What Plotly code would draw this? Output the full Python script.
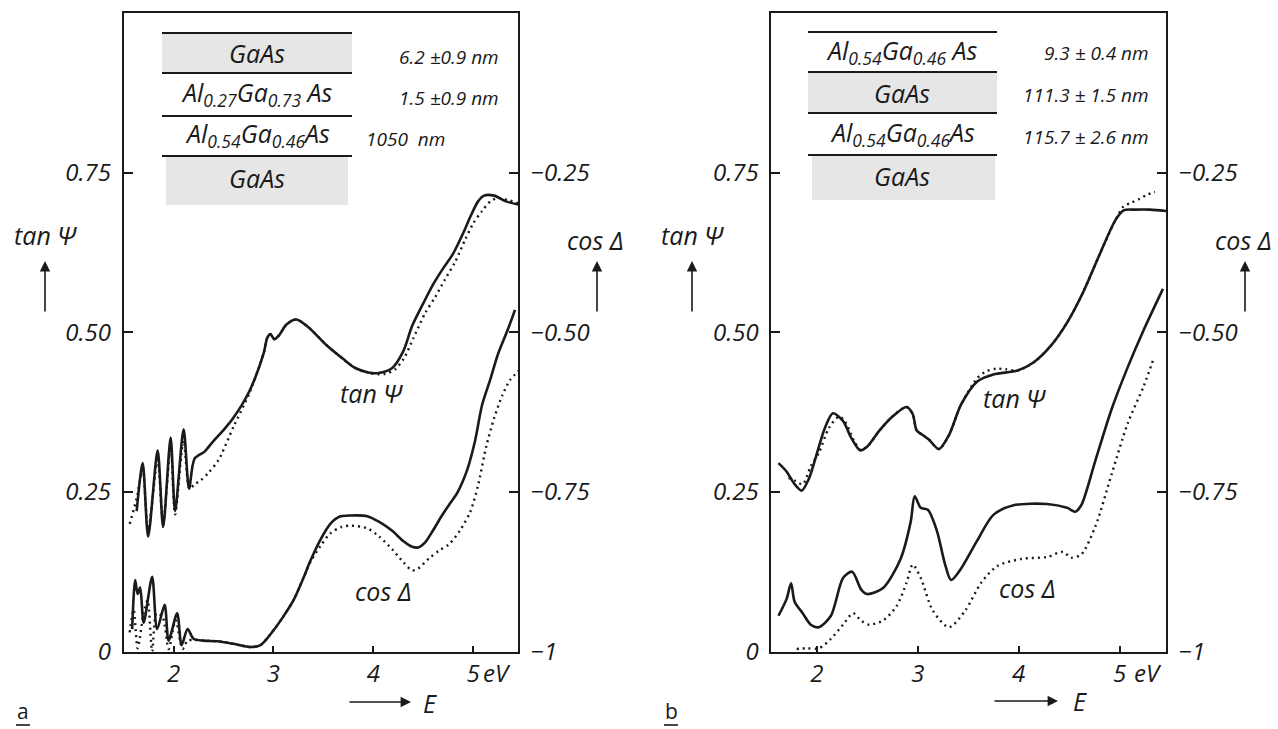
import plotly.graph_objects as go

W, H = 1278, 729
def px(x): return x / W
def py(y): return 1 - y / H

# ---------------- Panel a data ----------------
a_tan_meas_E = [1.63, 1.69, 1.745, 1.84, 1.895, 1.97, 2.015, 2.10, 2.155, 2.21, 2.31, 2.39, 2.49, 2.59,
                2.76, 2.90, 2.94, 2.97, 3.01, 3.06, 3.13, 3.23, 3.35, 3.53, 3.70, 3.82, 3.95, 4.05, 4.19,
                4.30, 4.39, 4.50, 4.60, 4.70, 4.80, 4.90, 4.97, 5.05, 5.11, 5.21, 5.33, 5.45]
a_tan_meas = [0.22, 0.295, 0.18, 0.315, 0.195, 0.335, 0.22, 0.348, 0.255, 0.302, 0.313, 0.328, 0.345, 0.364,
              0.408, 0.466, 0.492, 0.497, 0.489, 0.496, 0.512, 0.52, 0.508, 0.48, 0.458, 0.444, 0.437, 0.436, 0.444,
              0.47, 0.51, 0.545, 0.575, 0.60, 0.623, 0.655, 0.68, 0.705, 0.714, 0.714, 0.705, 0.70]

a_tan_calc_E = [1.56, 1.63, 1.69, 1.745, 1.84, 1.895, 1.97, 2.015, 2.10, 2.16, 2.21, 2.27, 2.35, 2.45, 2.60,
                2.76, 2.90, 2.94, 2.97, 3.01, 3.06, 3.13, 3.23, 3.35, 3.53, 3.70, 3.82, 3.95, 4.05, 4.12,
                4.22, 4.31, 4.40, 4.52, 4.62, 4.72, 4.82, 4.92, 5.00, 5.09, 5.18, 5.25, 5.35, 5.45]
a_tan_calc = [0.20, 0.24, 0.285, 0.19, 0.30, 0.20, 0.32, 0.215, 0.33, 0.255, 0.262, 0.268, 0.28, 0.30, 0.352,
              0.405, 0.466, 0.492, 0.497, 0.489, 0.496, 0.512, 0.52, 0.508, 0.48, 0.458, 0.444, 0.437, 0.434, 0.435,
              0.442, 0.46, 0.49, 0.53, 0.555, 0.583, 0.61, 0.645, 0.67, 0.69, 0.706, 0.71, 0.707, 0.702]

a_cos_meas_E = [1.585, 1.615, 1.64, 1.665, 1.70, 1.785, 1.835, 1.91, 1.95, 2.035, 2.08, 2.14, 2.20, 2.30,
                2.44, 2.60, 2.77, 2.87, 3.00, 3.10, 3.20, 3.30, 3.37, 3.47, 3.57, 3.66, 3.77, 3.94, 4.06,
                4.19, 4.30, 4.39, 4.45, 4.52, 4.60, 4.68, 4.76, 4.84, 4.94, 5.02, 5.09, 5.17, 5.25, 5.35, 5.42]
a_cos_meas = [-0.965, -0.888, -0.91, -0.90, -0.955, -0.883, -0.965, -0.927, -0.983, -0.94, -0.99, -0.965, -0.98, -0.983,
              -0.984, -0.988, -0.993, -0.99, -0.967, -0.945, -0.92, -0.885, -0.858, -0.825, -0.80, -0.789, -0.787, -0.788, -0.797,
              -0.811, -0.827, -0.836, -0.837, -0.829, -0.81, -0.789, -0.77, -0.752, -0.716, -0.67, -0.614, -0.575, -0.534, -0.495, -0.465]

a_cos_calc_E = [1.56, 1.60, 1.64, 1.70, 1.74, 1.785, 1.83, 1.89, 1.95, 2.02, 2.09, 2.14, 2.22, 2.30, 2.44, 2.60,
                2.77, 2.87, 3.00, 3.10, 3.20, 3.30, 3.37, 3.47, 3.57, 3.68, 3.78, 3.94, 4.06, 4.19, 4.30, 4.39,
                4.45, 4.56, 4.66, 4.76, 4.87, 4.97, 5.05, 5.13, 5.21, 5.29, 5.37, 5.46]
a_cos_calc = [-0.97, -0.935, -0.995, -0.94, -0.92, -1.0, -0.94, -0.946, -0.996, -0.951, -0.996, -0.983, -0.982, -0.983, -0.984, -0.988,
              -0.993, -0.99, -0.967, -0.945, -0.92, -0.885, -0.86, -0.835, -0.815, -0.805, -0.803, -0.807, -0.82, -0.84, -0.86, -0.873,
              -0.87, -0.854, -0.842, -0.832, -0.81, -0.782, -0.74, -0.68, -0.635, -0.60, -0.575, -0.56]

# ---------------- Panel b data ----------------
b_tan_meas_E = [1.62, 1.70, 1.78, 1.85, 1.92, 1.98, 2.08, 2.16, 2.26, 2.34, 2.43, 2.50, 2.62, 2.75, 2.89, 2.95,
                2.99, 3.05, 3.11, 3.21, 3.31, 3.43, 3.59, 3.75, 3.99, 4.15, 4.32, 4.48, 4.64, 4.80, 4.96,
                5.04, 5.15, 5.30, 5.46]
b_tan_meas = [0.295, 0.282, 0.262, 0.252, 0.27, 0.299, 0.35, 0.373, 0.361, 0.335, 0.315, 0.321, 0.346, 0.368, 0.383, 0.372,
              0.346, 0.339, 0.332, 0.317, 0.339, 0.387, 0.423, 0.434, 0.44, 0.453, 0.479, 0.515, 0.563, 0.621, 0.676,
              0.691, 0.692, 0.692, 0.69]

b_tan_calc_E = [1.72, 1.79, 1.86, 1.94, 2.02, 2.12, 2.22, 2.28, 2.36, 2.43, 2.50, 2.62, 2.75, 2.89, 2.95,
                2.99, 3.05, 3.11, 3.21, 3.31, 3.43, 3.59, 3.67, 3.78, 3.87, 3.99, 4.15, 4.32, 4.48, 4.64, 4.80,
                4.96, 5.04, 5.12, 5.20, 5.28, 5.35]
b_tan_calc = [0.272, 0.267, 0.262, 0.29, 0.311, 0.35, 0.368, 0.36, 0.333, 0.316, 0.321, 0.346, 0.368, 0.383, 0.372,
              0.346, 0.339, 0.332, 0.317, 0.339, 0.387, 0.428, 0.438, 0.443, 0.442, 0.44, 0.453, 0.479, 0.515, 0.563, 0.621,
              0.676, 0.697, 0.703, 0.709, 0.716, 0.72]

b_cos_meas_E = [1.62, 1.70, 1.745, 1.78, 1.86, 1.94, 2.02, 2.14, 2.26, 2.35, 2.44, 2.50, 2.66, 2.83, 2.93, 2.97,
                3.03, 3.10, 3.19, 3.27, 3.33, 3.43, 3.59, 3.75, 3.95, 4.28, 4.48, 4.56, 4.62, 4.76, 4.92,
                5.08, 5.24, 5.43]
b_cos_meas = [-0.944, -0.918, -0.893, -0.922, -0.94, -0.958, -0.962, -0.944, -0.885, -0.875, -0.903, -0.91, -0.90, -0.855, -0.797, -0.757,
              -0.775, -0.778, -0.811, -0.863, -0.888, -0.87, -0.826, -0.786, -0.771, -0.769, -0.775, -0.781, -0.771, -0.701, -0.621,
              -0.555, -0.496, -0.432]

b_cos_calc_E = [1.80, 1.90, 2.02, 2.14, 2.26, 2.36, 2.44, 2.52, 2.66, 2.79, 2.89, 2.95, 3.03, 3.15, 3.31, 3.47,
                3.63, 3.79, 4.03, 4.28, 4.44, 4.52, 4.62, 4.76, 4.92, 5.08, 5.24, 5.34]
b_cos_calc = [-0.996, -0.995, -0.995, -0.98, -0.958, -0.94, -0.952, -0.958, -0.951, -0.929, -0.892, -0.864, -0.885, -0.936, -0.962, -0.936,
              -0.892, -0.866, -0.855, -0.852, -0.844, -0.853, -0.848, -0.804, -0.723, -0.643, -0.584, -0.54]

tan_ticks = [0, 0.25, 0.5, 0.75]
tan_labels = ["0", "0.25", "0.50", "0.75"]
cos_ticks = [-1, -0.75, -0.5, -0.25]
cos_labels = ["\u22121", "\u22120.75", "\u22120.50", "\u22120.25"]
e_ticks = [2, 3, 4, 5]
e_labels = ["2", "3", "4", "5"]

FONT = "Open Sans"
INK = "#1a1a1a"

fig = go.Figure()

def solid(x, y, xa, ya):
    fig.add_trace(go.Scatter(x=x, y=y, xaxis=xa, yaxis=ya, mode="lines", showlegend=False,
                             line=dict(color=INK, width=2.6, shape="spline", smoothing=0.8)))

def dotted(x, y, xa, ya):
    fig.add_trace(go.Scatter(x=x, y=y, xaxis=xa, yaxis=ya, mode="lines", showlegend=False,
                             line=dict(color=INK, width=2.4, dash="2px,4px", shape="spline", smoothing=0.8)))

solid(a_tan_meas_E, a_tan_meas, "x", "y")
dotted(a_tan_calc_E, a_tan_calc, "x", "y")
solid(a_cos_meas_E, a_cos_meas, "x", "y2")
dotted(a_cos_calc_E, a_cos_calc, "x", "y2")

solid(b_tan_meas_E, b_tan_meas, "x2", "y3")
dotted(b_tan_calc_E, b_tan_calc, "x2", "y3")
solid(b_cos_meas_E, b_cos_meas, "x2", "y4")
dotted(b_cos_calc_E, b_cos_calc, "x2", "y4")

tf = dict(family=FONT, size=24, color=INK, style="italic")
common = dict(showline=True, linecolor=INK, linewidth=1.8, showgrid=False, zeroline=False,
              ticks="inside", tickcolor=INK, tickwidth=1.6, tickfont=tf)

ydom = [py(651.5), py(13)]
fig.update_layout(
    width=W, height=H, margin=dict(l=0, r=0, t=0, b=0),
    paper_bgcolor="white", plot_bgcolor="white", template="none", showlegend=False,
    xaxis=dict(domain=[px(123.7), px(518)], range=[1.5, 5.45], anchor="y", mirror=True,
               tickvals=e_ticks, ticktext=e_labels, ticklen=6, ticklabelstandoff=0, **common),
    yaxis=dict(domain=ydom, range=[0, 1.0], anchor="x", tickvals=tan_ticks, ticktext=tan_labels,
               ticklen=9, ticklabelstandoff=6, **common),
    yaxis2=dict(range=[-1, 0], anchor="x", overlaying="y", side="right", tickvals=cos_ticks,
                ticktext=cos_labels, ticklen=9, ticklabelstandoff=6, **common),
    xaxis2=dict(domain=[px(771.4), px(1166)], range=[1.55, 5.46], anchor="y3", mirror=True,
                tickvals=e_ticks, ticktext=e_labels, ticklen=6, ticklabelstandoff=0, **common),
    yaxis3=dict(domain=ydom, range=[0, 1.0], anchor="x2", tickvals=tan_ticks, ticktext=tan_labels,
                ticklen=9, ticklabelstandoff=6, **common),
    yaxis4=dict(range=[-1, 0], anchor="x2", overlaying="y3", side="right", tickvals=cos_ticks,
                ticktext=cos_labels, ticklen=9, ticklabelstandoff=6, **common),
)

shapes = []
anns = []

def txt(x, y, s, size=24, xanchor="center", italic=True):
    anns.append(dict(x=px(x), y=py(y), xref="paper", yref="paper", text=s, showarrow=False,
                     xanchor=xanchor, yanchor="middle",
                     font=dict(family=FONT, size=size, color=INK, style="italic" if italic else "normal")))

def arrow(x0, y0, x1, y1):
    # tail (x0,y0) -> tip (x1,y1), in pixels
    anns.append(dict(x=px(x1), y=py(y1), xref="paper", yref="paper", ax=x0 - x1, ay=y0 - y1,
                     axref="pixel", ayref="pixel", text="", showarrow=True, arrowhead=2,
                     arrowsize=1.3, arrowwidth=1.6, arrowcolor=INK))

def hline(x0, x1, y, w=2):
    shapes.append(dict(type="line", xref="paper", yref="paper", x0=px(x0), x1=px(x1), y0=py(y), y1=py(y),
                       line=dict(color=INK, width=w)))

def rect(x0, x1, y0, y1, color="#e6e6e6"):
    shapes.append(dict(type="rect", xref="paper", yref="paper", x0=px(x0), x1=px(x1), y0=py(y1), y1=py(y0),
                       fillcolor=color, line=dict(width=0), layer="below"))

# ---- Panel a table ----
rect(162, 352, 33, 73)
rect(166, 348, 156, 205)
for yy in [33, 73, 116, 156]:
    hline(162, 352, yy)
txt(257, 53, "GaAs", 25)
txt(257, 94, "Al<sub>0.27</sub>Ga<sub>0.73</sub> As", 25)
txt(257, 135, "Al<sub>0.54</sub>Ga<sub>0.46</sub>As", 25)
txt(257, 178, "GaAs", 25)
txt(501, 57, "6.2 ±0.9 nm", 19, xanchor="right")
txt(501, 98, "1.5 ±0.9 nm", 19, xanchor="right")
txt(364, 139, "1050  nm", 19, xanchor="left")

# ---- Panel b table ----
rect(808, 997, 72, 113)
rect(812, 995, 155, 200)
for yy in [32, 72, 113, 155]:
    hline(808, 997, yy)
txt(902, 52, "Al<sub>0.54</sub>Ga<sub>0.46</sub> As", 25)
txt(902, 93, "GaAs", 25)
txt(902, 134, "Al<sub>0.54</sub>Ga<sub>0.46</sub>As", 25)
txt(902, 176, "GaAs", 25)
txt(1151, 53, "9.3 ± 0.4 nm", 19, xanchor="right")
txt(1151, 95, "111.3 ± 1.5 nm", 19, xanchor="right")
txt(1151, 137, "115.7 ± 2.6 nm", 19, xanchor="right")

# ---- axis titles, curve labels ----
txt(45, 235, "tan \u03a8", 25)
arrow(45, 313, 45, 261)
txt(595, 240, "cos \u0394", 25)
arrow(597, 313, 597, 261)
txt(371, 393, "tan \u03a8", 25)
txt(383, 591, "cos \u0394", 25)
txt(497, 672, "eV", 24)
arrow(348, 702, 411, 702)
txt(430, 703, "E", 25)
txt(23, 711, "a", 21, italic=False)
hline(16, 30, 725, 1.6)

txt(692, 235, "tan \u03a8", 25)
arrow(692, 313, 692, 261)
txt(1243, 240, "cos \u0394", 25)
arrow(1245, 313, 1245, 261)
txt(1014, 398, "tan \u03a8", 25)
txt(1027, 588, "cos \u0394", 25)
txt(1148, 672, "eV", 24)
arrow(993, 701, 1058, 701)
txt(1080, 701, "E", 25)
txt(671, 711, "b", 21, italic=False)
hline(664, 678, 725, 1.6)

fig.update_layout(shapes=shapes, annotations=anns)
fig.write_html("out.html")
